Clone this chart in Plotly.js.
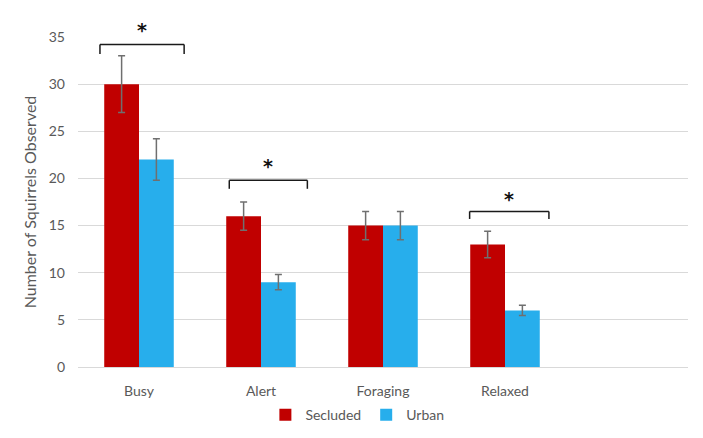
<!DOCTYPE html>
<html>
<head>
<meta charset="utf-8">
<script src="https://cdn.plot.ly/plotly-3.0.1.min.js"></script>
<style>html,body{margin:0;padding:0;background:#fff;}#chart{width:703px;height:438px;}</style>
</head>
<body>
<div id="chart"></div>
<script>
// Data
const categories = ["Busy", "Alert", "Foraging", "Relaxed"];
const secludedValues = [30, 16, 15, 13];
const secludedErrors = [3, 1.5, 1.5, 1.4];
const urbanValues = [22, 9, 15, 6];
const urbanErrors = [2.2, 0.8, 1.5, 0.55];
const seriesNames = ["Secluded", "Urban"];

// Significance brackets (category index, bracket level, star level)
const sigCategory = [0, 1, 3];
const sigLeft = [-0.32, -0.26, -0.29];
const sigRight = [0.37, 0.38, 0.36];
const sigBracketLevel = [34.2, 19.8, 16.5];
const sigTickLevel = [33.2, 18.9, 15.7];
const sigStarLevel = [36.1, 21.6, 18.1];
const sigLabel = ["*", "*", "*"];

const Y_MAX = 35;
const errStyle = {type: 'data', visible: true, color: '#6f6f6f', thickness: 1.5, width: 3.5};

const traces = [
  {
    type: 'bar', name: seriesNames[0], x: categories, y: secludedValues,
    error_y: Object.assign({array: secludedErrors}, errStyle),
    marker: {color: '#c00000'}
  },
  {
    type: 'bar', name: seriesNames[1], x: categories, y: urbanValues,
    error_y: Object.assign({array: urbanErrors}, errStyle),
    marker: {color: '#27aeec'}
  }
];

const shapes = [];
const annotations = [];
sigCategory.forEach((c, i) => {
  const x0 = c + sigLeft[i], x1 = c + sigRight[i];
  const lineStyle = {color: '#1a1a1a', width: 1.5};
  shapes.push({type: 'line', xref: 'x', yref: 'y', x0: x0, x1: x1, y0: sigBracketLevel[i], y1: sigBracketLevel[i], line: lineStyle});
  shapes.push({type: 'line', xref: 'x', yref: 'y', x0: x0, x1: x0, y0: sigBracketLevel[i], y1: sigTickLevel[i], line: lineStyle});
  shapes.push({type: 'line', xref: 'x', yref: 'y', x0: x1, x1: x1, y0: sigBracketLevel[i], y1: sigTickLevel[i], line: lineStyle});
  annotations.push({
    xref: 'x', yref: 'paper', x: (x0 + x1) / 2, y: sigStarLevel[i] / Y_MAX,
    xanchor: 'center', yanchor: 'middle', yshift: -3,
    text: '<b>' + sigLabel[i] + '</b>',
    showarrow: false, font: {family: '"DejaVu Sans", sans-serif', size: 19, color: '#111'}
  });
});

const layout = {
  width: 703, height: 438,
  margin: {l: 78, r: 15, t: 37, b: 71, autoexpand: false},
  paper_bgcolor: '#fff', plot_bgcolor: '#fff',
  font: {family: 'Lato, "Open Sans", Arial, sans-serif', size: 14, color: '#595959'},
  barmode: 'group', bargap: 0.43, bargroupgap: 0,
  showlegend: true,
  legend: {orientation: 'h', x: 0.458, xanchor: 'center', y: -0.146, yanchor: 'middle',
           font: {size: 14, color: '#595959'}, itemwidth: 30, tracegroupgap: 0},
  xaxis: {
    type: 'category', categoryorder: 'array', categoryarray: categories,
    range: [-0.5, 4.5], showgrid: false, showline: true, linecolor: '#d9d9d9', linewidth: 1,
    ticks: '', ticklabelstandoff: 11, tickfont: {size: 14, color: '#595959'}, fixedrange: true
  },
  yaxis: {
    range: [0, Y_MAX], tickvals: [0, 5, 10, 15, 20, 25, 30, 35], showgrid: true,
    gridcolor: '#d9d9d9', gridwidth: 1, zeroline: false, showline: false, ticks: '',
    ticklabelstandoff: 12, tickfont: {size: 14, color: '#595959'},
    title: {text: 'Number of Squirrels Observed', font: {size: 16, color: '#595959'}, standoff: 8}
  },
  shapes: shapes,
  annotations: annotations
};

Plotly.newPlot('chart', traces, layout, {displayModeBar: false, staticPlot: true});
</script>
</body>
</html>
